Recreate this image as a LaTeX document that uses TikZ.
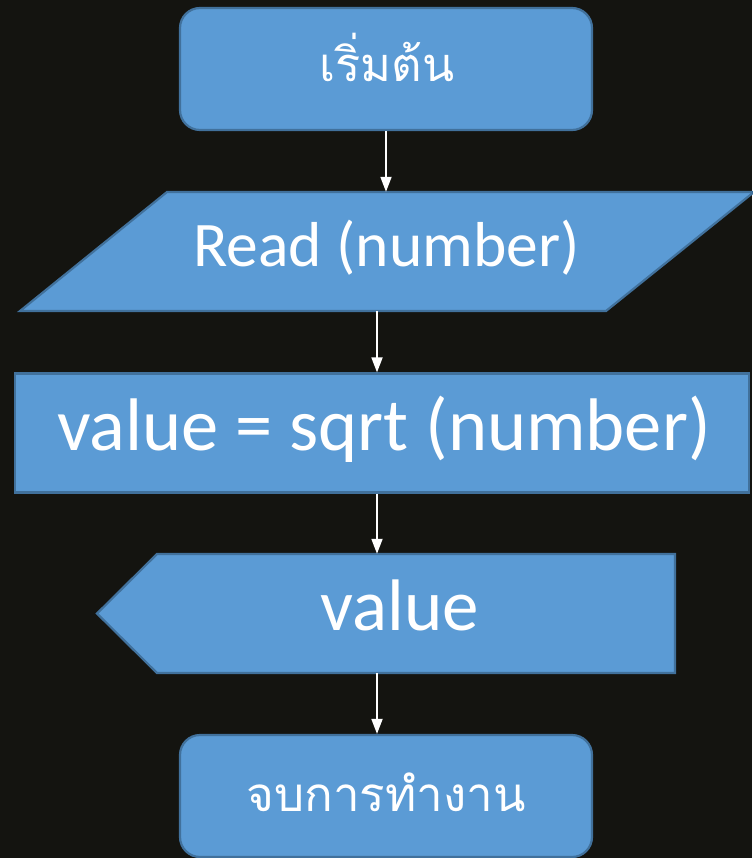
\documentclass[tikz,border=0pt]{standalone}
\usepackage{fontspec}
\setmainfont{Carlito}
\newfontfamily\thaifont[Script=Thai]{Loma}
\usetikzlibrary{arrows.meta}
\definecolor{bgdark}{HTML}{141410}
\definecolor{boxfill}{HTML}{5B9BD5}
\definecolor{boxline}{HTML}{41719C}
\tikzset{
  shapefill/.style={fill=boxfill, draw=boxline, line width=2.2pt, line join=miter},
  flowbox/.style={shapefill, rectangle, inner sep=0pt},
  frame/.style={inner sep=0pt, minimum width=0pt},
  lbl/.style={text=white, inner sep=0pt, anchor=base},
  flow/.style={draw=white, line width=1.8pt, -{Triangle[width=11pt,length=15pt]}},
}
\begin{document}
\begin{tikzpicture}[x=1pt, y=-1pt]
  \useasboundingbox[fill=bgdark] (0,0) rectangle (752,858);

  % start terminal
  \node[flowbox, rounded corners=20pt, minimum width=412pt, minimum height=122pt] (start) at (386,69) {};
  \node[lbl, font=\thaifont\fontsize{47}{50}\selectfont] (startlbl) at (387,82) {เริ่มต้น};

  % input parallelogram
  \draw[shapefill] (167,192) -- (754,192) -- (606,311) -- (20,311) -- cycle;
  \node[frame, minimum height=119pt] (read) at (386,251.5) {};
  \node[lbl, font=\fontsize{63.5}{70}\selectfont] (readlbl) at (386.5,267) {Read (number)};

  % process
  \node[flowbox, minimum width=734pt, minimum height=119pt] (proc) at (382,433) {};
  \node[lbl, font=\fontsize{74.5}{80}\selectfont] (proclbl) at (384,450) {value = sqrt (number)};

  % display
  \draw[shapefill] (97,613.5) -- (157,554) -- (675,554) -- (675,673) -- (157,673) -- cycle;
  \node[frame, minimum height=119pt] (show) at (386,613.5) {};
  \node[lbl, font=\fontsize{73}{80}\selectfont] (showlbl) at (400,630) {value};

  % end terminal
  \node[flowbox, rounded corners=20pt, minimum width=412pt, minimum height=122pt] (stop) at (386,796) {};
  \node[lbl, font=\thaifont\fontsize{47.5}{50}\selectfont] (stoplbl) at (386,811) {จบการทำงาน};

  % connectors
  \coordinate (col) at (377,0);
  \draw[flow] (start.south) -- (read.north);
  \draw[flow] (read.south -| col) -- (proc.north -| col);
  \draw[flow] (proc.south -| col) -- (show.north -| col);
  \draw[flow] (show.south -| col) -- (stop.north -| col);
\end{tikzpicture}
\end{document}
